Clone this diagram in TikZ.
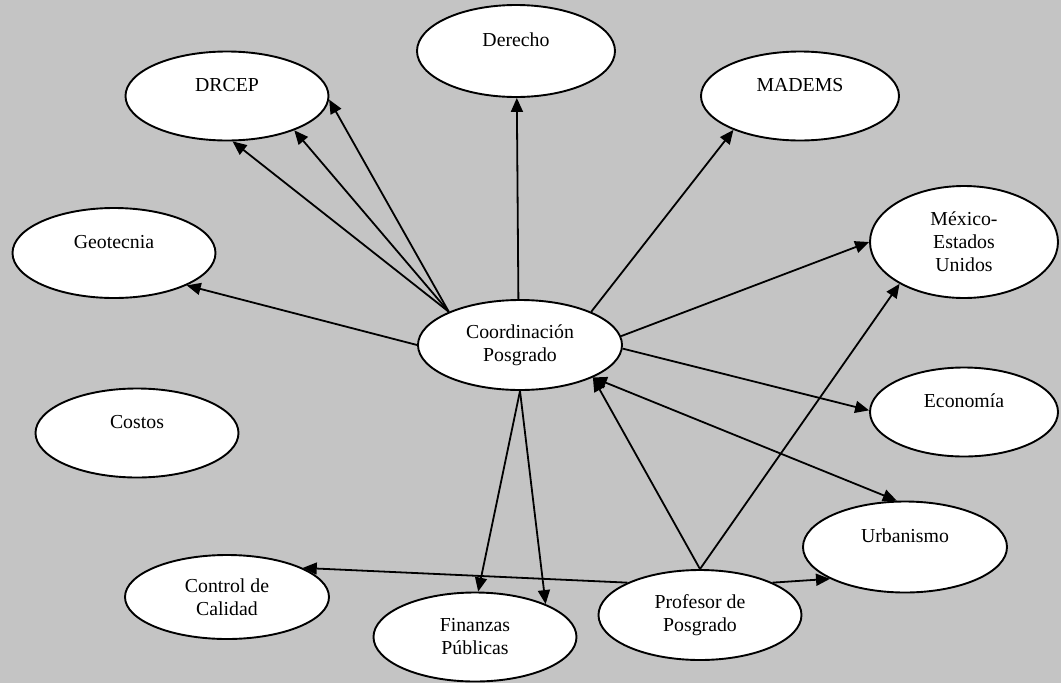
\documentclass[tikz,border=0pt]{standalone}
\usepackage{fontspec}
\setmainfont{Liberation Serif}
\usetikzlibrary{arrows.meta,shapes.geometric}
\definecolor{bgpaper}{RGB}{196,196,196}
\begin{document}
\begin{tikzpicture}[x=1pt,y=-1pt,
  bubble/.style={ellipse,draw=black,line width=1.9pt,fill=white,inner sep=0pt,
    align=center,font=\fontsize{19.8}{23}\selectfont},
  link/.style={line width=1.8pt,-{Triangle[length=14pt,width=12pt]}},
  duallink/.style={line width=1.8pt,{Triangle[length=14pt,width=12pt]}-{Triangle[length=14pt,width=12pt]}}]
\fill[bgpaper] (0,0) rectangle (1061,683);
\useasboundingbox (0,0) rectangle (1061,683);

% programmes around the coordination office
\node[bubble,minimum width=204pt,minimum height=90pt] (coord) at (520,345) {Coordinación\\Posgrado};
\node[bubble,minimum width=203pt,minimum height=89pt] (drcep) at (227,96) {DRCEP\\\phantom{D}};
\node[bubble,minimum width=198pt,minimum height=92pt] (derecho) at (516,51) {Derecho\\\phantom{D}};
\node[bubble,minimum width=198pt,minimum height=89pt] (mad) at (800,96) {MADEMS\\\phantom{D}};
\node[bubble,minimum width=203pt,minimum height=90pt] (geo) at (114,253) {Geotecnia\\\phantom{D}};
\node[bubble,minimum width=188pt,minimum height=112pt] (mex) at (964,242) {México-\\Estados\\Unidos};
\node[bubble,minimum width=188pt,minimum height=89pt] (eco) at (964,412) {Economía\\\phantom{D}};
\node[bubble,minimum width=203pt,minimum height=89pt] (costos) at (137,433) {Costos\\\phantom{D}};
\node[bubble,minimum width=204pt,minimum height=91pt] (urb) at (905,547) {Urbanismo\\\phantom{D}};
\node[bubble,minimum width=204pt,minimum height=84pt] (control) at (227,597) {Control de\\Calidad};
\node[bubble,minimum width=203pt,minimum height=89pt] (fin) at (475,637) {Finanzas\\Públicas};
\node[bubble,minimum width=203pt,minimum height=90pt] (prof) at (700,615) {Profesor de\\Posgrado};

% links from the coordination office
\draw[link] (coord.180) -- (geo.-24);
\draw[link] (coord.155) -- (drcep.-83);
\draw[link] (coord.155) -- (drcep.-27);
\draw[link] (coord.155) -- (drcep.-2);
\draw[link] (coord.92) -- (derecho.-89);
\draw[link] (coord.25) -- (mad.207);
\draw[link] (coord.5) -- (mex.180);
\draw[link] (coord.-2) -- (eco.179);
\draw[duallink] (coord.-24) -- (urb.100);
\draw[link] (coord.south) -- (fin.86);
\draw[link] (coord.south) -- (fin.25);

% links from the teaching staff
\draw[link] (prof.156) -- (control.21);
\draw[link] (prof.24) -- (urb.203);
\draw[link] (prof.north) -- (mex.213);
\draw[link] (prof.north) -- (coord.-24);
\end{tikzpicture}
\end{document}
